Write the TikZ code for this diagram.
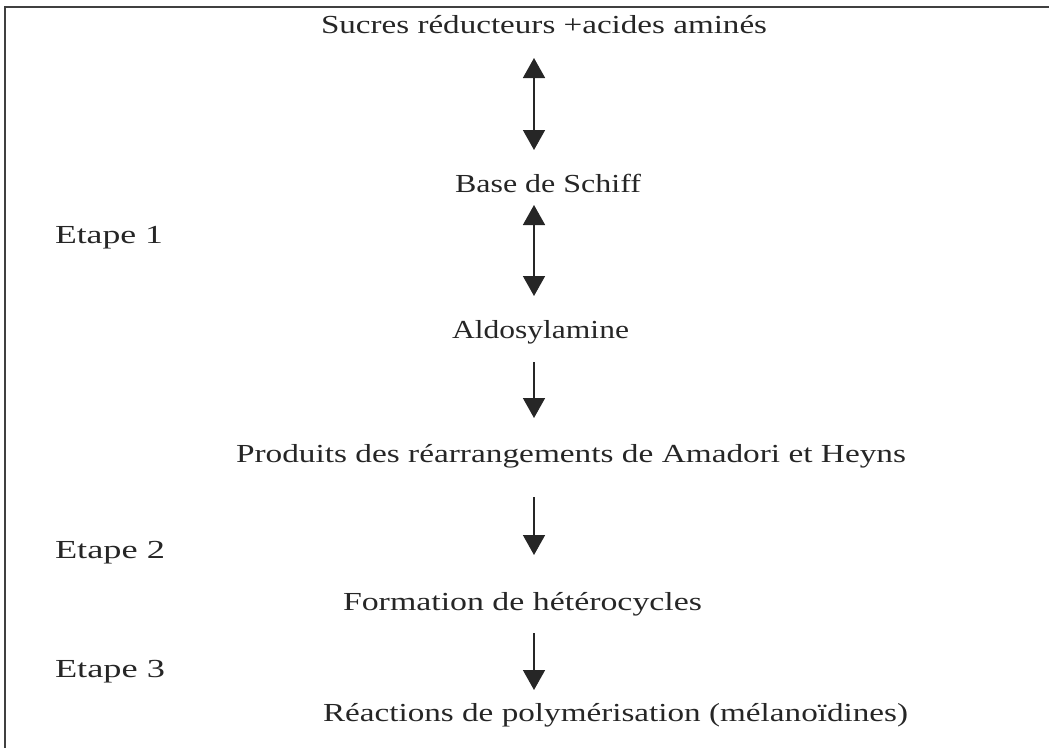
\documentclass[tikz,border=0pt]{standalone}
\usepackage{fontspec}
\setmainfont{Liberation Serif}
\usetikzlibrary{arrows.meta}
\tikzset{
  lbl/.style={anchor=base west, inner sep=0pt, outer sep=0pt, text=black!85},
  arr/.style={line width=1.6pt, draw=black!85, -{Triangle[width=22pt,length=20pt]}},
  dbl/.style={line width=1.6pt, draw=black!85, {Triangle[width=22pt,length=20pt]}-{Triangle[width=22pt,length=20pt]}},
  frame/.style={line width=2pt, draw=black!75, line cap=rect}
}
\newcommand{\fitw}[2]{\resizebox{#1pt}{\height}{\fontsize{26}{30}\selectfont #2}}
\begin{document}
\begin{tikzpicture}[x=1pt,y=-1pt]
\useasboundingbox (0,0) rectangle (1049,747);
% frame
\coordinate (fl) at (5,747);
\coordinate (fc) at (5,7);
\coordinate (fr) at (1049,7);
\draw[frame] (fl) -- (fc) -- (fr);
% texts
\node[lbl] (s0) at (321,33) {\fitw{446}{Sucres réducteurs +acides aminés}};
\node[lbl] (s1) at (455,192) {\fitw{186}{Base de Schiff}};
\node[lbl] (e1) at (55,243) {\fitw{108}{Etape 1}};
\node[lbl] (s2) at (452,338) {\fitw{177}{Aldosylamine}};
\node[lbl] (s3) at (236,462) {\fitw{670}{Produits des réarrangements de Amadori et Heyns}};
\node[lbl] (e2) at (55,558) {\fitw{110}{Etape 2}};
\node[lbl] (s4) at (343,610) {\fitw{359}{Formation de hétérocycles}};
\node[lbl] (e3) at (55,677) {\fitw{110}{Etape 3}};
\node[lbl] (s5) at (323,721) {\fitw{585}{Réactions de polymérisation (mélanoïdines)}};
% arrow end points
\coordinate (a1t) at (534,58);  \coordinate (a1b) at (534,150);
\coordinate (a2t) at (534,205); \coordinate (a2b) at (534,296);
\coordinate (a3t) at (534,362); \coordinate (a3b) at (534,418);
\coordinate (a4t) at (534,497); \coordinate (a4b) at (534,555);
\coordinate (a5t) at (534,633); \coordinate (a5b) at (534,690);
\draw[dbl] (a1t) -- (a1b);
\draw[dbl] (a2t) -- (a2b);
\draw[arr] (a3t) -- (a3b);
\draw[arr] (a4t) -- (a4b);
\draw[arr] (a5t) -- (a5b);
\end{tikzpicture}
\end{document}
